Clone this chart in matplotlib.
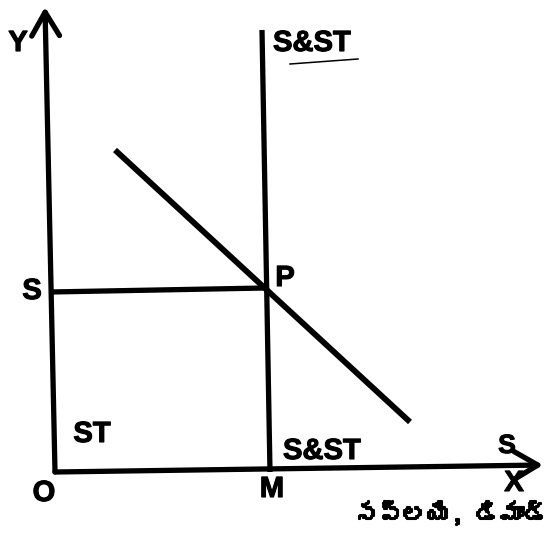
import matplotlib
matplotlib.use("Agg")
import matplotlib.pyplot as plt
import matplotlib.patheffects as pe
from matplotlib import font_manager
from matplotlib.ft2font import FT2Font

# find a font that has Telugu glyphs, if there is one
telugu_family = None
for f in font_manager.fontManager.ttflist:
    try:
        if 0x0C38 in FT2Font(f.fname).get_charmap():
            telugu_family = f.name
            break
    except Exception:
        pass

# diagram geometry, units with O at the origin
y_axis_x = [-0.2, 0.0]
y_axis_y = [9.3, 0.0]
x_axis_x = [0.0, 9.76]
x_axis_y = [0.0, 0.14]
supply_x = [4.14, 4.3]
supply_y = [8.84, 0.0]
price_x = [-0.1, 4.2]
price_y = [3.6, 3.68]
demand_x = [1.2, 7.1]
demand_y = [6.44, 1.0]
underline_x = [4.7, 6.06]
underline_y = [8.16, 8.26]

labels = ["Y", "S&ST", "S", "P", "ST", "S&ST", "S", "X", "O", "M"]
label_x = [-0.74, 4.36, -0.46, 4.6, 0.74, 4.56, 9.04, 9.18, -0.22, 4.34]
label_y = [8.58, 8.58, 3.62, 3.88, 0.76, 0.42, 0.52, -0.22, -0.42, -0.34]
label_ha = ["center", "left", "center", "center", "center", "left",
            "center", "center", "center", "center"]
label_size = [21, 21, 21, 21, 21, 21, 19, 21, 21, 21]
axis_title = "సప్లయి, డిమాండ్"

fig = plt.figure(figsize=(5.49, 5.43), dpi=100)
ax = fig.add_axes([0, 0, 1, 1])
ax.set_xlim(-1.1, 9.88)
ax.set_ylim(-1.42, 9.44)
ax.axis("off")

lw = 3.8
arrow = dict(arrowstyle="->,head_length=0.85,head_width=0.5", lw=lw,
             color="black", shrinkA=0, shrinkB=0, mutation_scale=20)
ax.annotate("", xy=(y_axis_x[0], y_axis_y[0]), xytext=(y_axis_x[1], y_axis_y[1]),
            arrowprops=arrow)
ax.annotate("", xy=(x_axis_x[1], x_axis_y[1]), xytext=(x_axis_x[0], x_axis_y[0]),
            arrowprops=arrow)

ax.plot(supply_x, supply_y, color="black", lw=lw, solid_capstyle="butt")
ax.plot(price_x, price_y, color="black", lw=lw, solid_capstyle="butt")
ax.plot(demand_x, demand_y, color="black", lw=lw + 0.4, solid_capstyle="butt")
ax.plot(underline_x, underline_y, color="black", lw=1.1)

bold = [pe.withStroke(linewidth=0.8, foreground="black")]
for t, x, y, ha, s in zip(labels, label_x, label_y, label_ha, label_size):
    ax.text(x, y, t, ha=ha, va="center", fontsize=s, fontweight="bold",
            family="Liberation Sans", path_effects=bold)

fams = [telugu_family, "DejaVu Sans"] if telugu_family else ["DejaVu Sans"]
ax.text(9.86, -0.82, axis_title, ha="right", va="center", fontsize=17.5,
        fontweight="bold", family=fams,
        path_effects=[pe.withStroke(linewidth=1.5, foreground="black")])

fig.savefig("out.png", dpi=100)
